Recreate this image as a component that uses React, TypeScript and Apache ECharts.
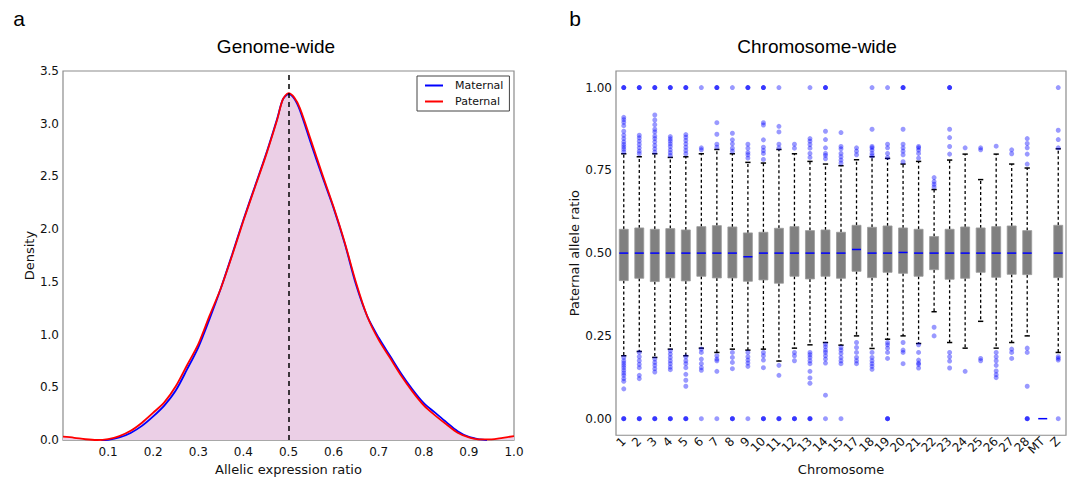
import React, { useEffect, useRef } from "react";
import * as echarts from "echarts";

// ---------- Panel a: genome-wide density ----------
const patX = [0, 0.025, 0.05, 0.075, 0.1, 0.125, 0.15, 0.175, 0.2, 0.225, 0.25, 0.275, 0.3, 0.325, 0.35, 0.375, 0.4, 0.425, 0.45, 0.475, 0.4875, 0.5, 0.5125, 0.525, 0.55, 0.575, 0.6, 0.625, 0.65, 0.675, 0.7, 0.725, 0.75, 0.775, 0.8, 0.825, 0.85, 0.875, 0.9, 0.925, 0.95, 0.975, 1.0];
const paternalDensity = [0.032, 0.022, 0.008, 0.001, 0.01, 0.038, 0.088, 0.165, 0.26, 0.36, 0.51, 0.71, 0.91, 1.18, 1.44, 1.75, 2.08, 2.39, 2.70, 3.04, 3.23, 3.29, 3.25, 3.15, 2.84, 2.52, 2.21, 1.87, 1.49, 1.17, 0.95, 0.78, 0.61, 0.46, 0.33, 0.235, 0.15, 0.07, 0.026, 0.006, 0.006, 0.022, 0.038];
const matX = [0.085, 0.1, 0.125, 0.15, 0.175, 0.2, 0.225, 0.25, 0.275, 0.3, 0.325, 0.35, 0.375, 0.4, 0.425, 0.45, 0.475, 0.4875, 0.5, 0.5125, 0.525, 0.55, 0.575, 0.6, 0.625, 0.65, 0.675, 0.7, 0.725, 0.75, 0.775, 0.8, 0.825, 0.85, 0.875, 0.9, 0.925, 0.94];
const maternalDensity = [0.0, 0.003, 0.025, 0.068, 0.135, 0.225, 0.33, 0.47, 0.67, 0.88, 1.15, 1.44, 1.76, 2.09, 2.40, 2.71, 3.05, 3.23, 3.28, 3.24, 3.13, 2.81, 2.50, 2.20, 1.86, 1.47, 1.17, 0.97, 0.80, 0.63, 0.48, 0.35, 0.26, 0.17, 0.085, 0.03, 0.006, 0.0];
const densityXTicks = [0, 0.1, 0.2, 0.3, 0.4, 0.5, 0.6, 0.7, 0.8, 0.9, 1.0];

// ---------- Panel b: chromosome-wide boxplots ----------
const chromosomes = ["1", "2", "3", "4", "5", "6", "7", "8", "9", "10", "11", "12", "13", "14", "15", "17", "18", "19", "20", "21", "22", "23", "24", "25", "26", "27", "28", "MT", "Z"];
const whiskerLow = [0.19, 0.203, 0.185, 0.21, 0.19, 0.213, 0.2, 0.21, 0.207, 0.21, 0.174, 0.213, 0.223, 0.23, 0.222, 0.25, 0.212, 0.24, 0.25, 0.227, 0.323, 0.23, 0.213, 0.294, 0.213, 0.23, 0.25, 0, 0.2];
const q1 = [0.417, 0.424, 0.414, 0.425, 0.416, 0.43, 0.425, 0.425, 0.415, 0.419, 0.409, 0.43, 0.422, 0.43, 0.424, 0.445, 0.426, 0.442, 0.439, 0.43, 0.45, 0.421, 0.424, 0.442, 0.427, 0.436, 0.435, 0, 0.426];
const medians = [0.5, 0.5, 0.5, 0.5, 0.5, 0.5, 0.5, 0.5, 0.489, 0.5, 0.5, 0.5, 0.5, 0.5, 0.5, 0.511, 0.5, 0.5, 0.502, 0.5, 0.5, 0.5, 0.5, 0.5, 0.5, 0.5, 0.5, 0, 0.5];
const q3 = [0.572, 0.576, 0.572, 0.574, 0.57, 0.58, 0.583, 0.579, 0.561, 0.563, 0.575, 0.58, 0.568, 0.57, 0.563, 0.584, 0.578, 0.582, 0.576, 0.572, 0.55, 0.572, 0.579, 0.576, 0.58, 0.582, 0.568, 0, 0.584];
const whiskerHigh = [0.8, 0.791, 0.8, 0.789, 0.791, 0.8, 0.813, 0.8, 0.774, 0.772, 0.813, 0.8, 0.777, 0.769, 0.764, 0.782, 0.791, 0.786, 0.769, 0.777, 0.692, 0.781, 0.799, 0.722, 0.799, 0.769, 0.757, 0, 0.815];
const upperOutliers = [
  [0.91, 0.903, 0.895, 0.885, 0.868, 0.856, 0.846, 0.836, 0.828, 0.821, 0.814, 0.806],
  [0.856, 0.848, 0.838, 0.828, 0.818, 0.808, 0.8],
  [0.917, 0.902, 0.888, 0.874, 0.866, 0.854, 0.846, 0.836, 0.825, 0.815, 0.805],
  [0.852, 0.845, 0.838, 0.83, 0.822, 0.812, 0.803, 0.795],
  [0.858, 0.85, 0.84, 0.83, 0.82, 0.81, 0.8],
  [0.818, 0.812],
  [0.894, 0.859, 0.829, 0.82],
  [0.862, 0.842, 0.83, 0.817, 0.808],
  [0.829, 0.817, 0.804, 0.797, 0.787],
  [0.894, 0.887, 0.842, 0.82, 0.81, 0.801, 0.783],
  [0.883, 0.866, 0.829, 0.818],
  [0.829, 0.817],
  [0.846, 0.838, 0.828, 0.817, 0.801, 0.789],
  [0.868, 0.843, 0.818, 0.801, 0.795, 0.785],
  [0.864, 0.822, 0.815, 0.801, 0.791, 0.781, 0.772],
  [0.818, 0.808, 0.797],
  [0.874, 0.822, 0.818, 0.811, 0.801, 0.794],
  [0.829, 0.818, 0.801, 0.789],
  [0.874, 0.829, 0.818, 0.808, 0.797, 0.776],
  [0.822, 0.818, 0.811, 0.801, 0.787],
  [0.728, 0.716, 0.708, 0.7],
  [0.874, 0.849, 0.822, 0.799],
  [0.818],
  [0.818, 0.812],
  [0.823],
  [0.812, 0.8],
  [0.846, 0.831, 0.818, 0.799, 0.769],
  [],
  [0.871, 0.843, 0.818],
];
const lowerOutliers = [
  [0.185, 0.175, 0.168, 0.161, 0.154, 0.146, 0.138, 0.131, 0.121, 0.113, 0.09],
  [0.2, 0.187, 0.175, 0.164, 0.154, 0.131, 0.121],
  [0.18, 0.17, 0.161, 0.151, 0.141],
  [0.205, 0.195, 0.185, 0.175, 0.166, 0.156, 0.148],
  [0.187, 0.175, 0.166, 0.154, 0.134, 0.116, 0.098],
  [0.21, 0.2, 0.18, 0.166, 0.154, 0.146],
  [0.19, 0.18, 0.175, 0.143],
  [0.2, 0.185, 0.17, 0.151],
  [0.2, 0.187, 0.177, 0.168, 0.158],
  [0.2, 0.19, 0.177, 0.154],
  [0.161, 0.131],
  [0.2, 0.19, 0.175],
  [0.2, 0.193, 0.185, 0.175, 0.166, 0.143, 0.123, 0.107],
  [0.225, 0.217, 0.207, 0.2, 0.19, 0.18, 0.168, 0.071],
  [0.215, 0.207, 0.197, 0.185, 0.175, 0.166],
  [0.23, 0.215, 0.2, 0.185, 0.175, 0.166],
  [0.2, 0.185, 0.175, 0.166, 0.158, 0.149],
  [0.23, 0.223, 0.213, 0.2, 0.182],
  [0.23, 0.207, 0.2, 0.166],
  [0.223, 0.2, 0.177, 0.168, 0.164, 0.153],
  [0.276, 0.25],
  [0.2, 0.187, 0.174, 0.153],
  [0.143],
  [0.182, 0.175],
  [0.2, 0.187, 0.175, 0.161, 0.144, 0.133, 0.124],
  [0.21, 0.2, 0.182],
  [0.213, 0.2, 0.098],
  [],
  [0.187, 0.182, 0.177],
];
// number of overlapping points sitting exactly at 1.00 and at 0.00
const countAtOne = [3, 3, 3, 3, 3, 1, 3, 1, 3, 3, 1, 0, 1, 3, 0, 0, 1, 1, 3, 0, 0, 3, 0, 0, 0, 0, 0, 0, 1];
const countAtZero = [3, 3, 3, 3, 3, 1, 1, 3, 1, 3, 3, 3, 3, 1, 1, 0, 0, 3, 0, 0, 0, 0, 0, 0, 0, 0, 3, 0, 1];
const ratioTicks = [0, 0.25, 0.5, 0.75, 1.0];

const TICK_FONT = "DejaVu Sans";
const TITLE_FONT = "Liberation Sans";

export default function App() {
  const ref = useRef<HTMLDivElement>(null);

  useEffect(() => {
    if (!ref.current) return;
    const chart = echarts.init(ref.current, undefined, { renderer: "svg" });

    const boxData = chromosomes.map((_, i) => [i, whiskerLow[i], q1[i], medians[i], q3[i], whiskerHigh[i]]);
    const outlierData: number[][] = [];
    chromosomes.forEach((_, i) => {
      upperOutliers[i].forEach((v) => outlierData.push([i, v]));
      lowerOutliers[i].forEach((v) => outlierData.push([i, v]));
      for (let k = 0; k < countAtOne[i]; k++) outlierData.push([i, 1]);
      for (let k = 0; k < countAtZero[i]; k++) outlierData.push([i, 0]);
    });

    const axisLabelBase = { fontFamily: TICK_FONT, fontSize: 12, color: "#111" };
    const axisNameBase = { fontFamily: TICK_FONT, fontSize: 13, color: "#111" };

    chart.setOption({
      animation: false,
      backgroundColor: "#fff",
      grid: [
        { left: 63, top: 71, width: 451, height: 371, show: true, borderColor: "#8c8c8c", borderWidth: 1.2, backgroundColor: "transparent" },
        { left: 616, top: 71, width: 450, height: 372, show: true, borderColor: "#8c8c8c", borderWidth: 1.2, backgroundColor: "transparent" },
      ],
      legend: {
        data: ["Maternal", "Paternal"],
        orient: "vertical",
        left: 417,
        top: 76,
        icon: "rect",
        itemWidth: 18,
        itemHeight: 2,
        itemGap: 5,
        padding: [4, 6, 4, 8],
        borderColor: "#444",
        borderWidth: 1,
        borderRadius: 0,
        textStyle: { fontFamily: TICK_FONT, fontSize: 11, color: "#111", padding: [0, 0, 0, 7] },
      },
      xAxis: [
        {
          type: "value",
          gridIndex: 0,
          min: 0,
          max: 1,
          interval: 0.1,
          axisLine: { show: false },
          axisTick: { show: false },
          splitLine: { show: false },
          axisLabel: { ...axisLabelBase, margin: 6, formatter: (v: number) => (v === 0 ? "" : densityXTicks.includes(Math.round(v * 10) / 10) ? v.toFixed(1) : "") },
          name: "Allelic expression ratio",
          nameLocation: "middle",
          nameGap: 22,
          nameTextStyle: axisNameBase,
        },
        {
          type: "category",
          gridIndex: 1,
          data: chromosomes,
          boundaryGap: true,
          axisLine: { show: false },
          axisTick: { show: false },
          splitLine: { show: false },
          axisLabel: { ...axisLabelBase, fontSize: 12, rotate: 45, margin: 4, interval: 0 },
          name: "Chromosome",
          nameLocation: "middle",
          nameGap: 24,
          nameTextStyle: axisNameBase,
        },
      ],
      yAxis: [
        {
          type: "value",
          gridIndex: 0,
          min: 0,
          max: 3.5,
          interval: 0.5,
          axisLine: { show: false },
          axisTick: { show: false },
          splitLine: { show: false },
          axisLabel: { ...axisLabelBase, margin: 4, formatter: (v: number) => v.toFixed(1) },
          name: "Density",
          nameLocation: "middle",
          nameGap: 27,
          nameTextStyle: axisNameBase,
        },
        {
          type: "value",
          gridIndex: 1,
          min: -0.05,
          max: 1.05,
          axisLine: { show: false },
          axisTick: { show: false },
          splitLine: { show: false },
          axisLabel: { ...axisLabelBase, margin: 4, customValues: ratioTicks, formatter: (v: number) => v.toFixed(2) },
          name: "Paternal allele ratio",
          nameLocation: "middle",
          nameGap: 33,
          nameTextStyle: axisNameBase,
        },
      ],
      graphic: [
        { type: "text", x: 19, y: 18, style: { text: "a", font: `21px ${TITLE_FONT}`, fill: "#000", align: "center", verticalAlign: "middle", textAlign: "center", textVerticalAlign: "middle" } },
        { type: "text", x: 575, y: 18, style: { text: "b", font: `21px ${TITLE_FONT}`, fill: "#000", align: "center", verticalAlign: "middle", textAlign: "center", textVerticalAlign: "middle" } },
        { type: "text", x: 276, y: 46, style: { text: "Genome-wide", font: `19px ${TITLE_FONT}`, fill: "#000", align: "center", verticalAlign: "middle", textAlign: "center", textVerticalAlign: "middle" } },
        { type: "text", x: 817, y: 46, style: { text: "Chromosome-wide", font: `19px ${TITLE_FONT}`, fill: "#000", align: "center", verticalAlign: "middle", textAlign: "center", textVerticalAlign: "middle" } },
      ],
      series: [
        {
          name: "fill",
          type: "line",
          xAxisIndex: 0,
          yAxisIndex: 0,
          data: patX.map((x, i) => [x, paternalDensity[i]]),
          smooth: 0.3,
          showSymbol: false,
          silent: true,
          lineStyle: { width: 0, opacity: 0 },
          areaStyle: { color: "#ebcfe6", opacity: 1 },
          z: 1,
        },
        {
          name: "Maternal",
          type: "line",
          xAxisIndex: 0,
          yAxisIndex: 0,
          data: matX.map((x, i) => [x, maternalDensity[i]]),
          smooth: 0.3,
          showSymbol: false,
          itemStyle: { color: "#0000ff" },
          lineStyle: { color: "#0000ff", width: 1.8 },
          z: 2,
        },
        {
          name: "Paternal",
          type: "line",
          xAxisIndex: 0,
          yAxisIndex: 0,
          data: patX.map((x, i) => [x, paternalDensity[i]]),
          smooth: 0.3,
          showSymbol: false,
          itemStyle: { color: "#ff0000" },
          lineStyle: { color: "#ff0000", width: 1.8 },
          z: 3,
          markLine: {
            silent: true,
            symbol: "none",
            label: { show: false },
            lineStyle: { color: "#000", type: [5, 4], width: 1.5 },
            data: [{ xAxis: 0.5 }],
          },
        },
        {
          name: "boxes",
          type: "custom",
          xAxisIndex: 1,
          yAxisIndex: 1,
          data: boxData,
          z: 2,
          renderItem: (params: any, api: any) => {
            const idx = api.value(0);
            const lo = api.value(1), b1 = api.value(2), md = api.value(3), b3 = api.value(4), hi = api.value(5);
            const pLo = api.coord([idx, lo]);
            const p1 = api.coord([idx, b1]);
            const pm = api.coord([idx, md]);
            const p3 = api.coord([idx, b3]);
            const pHi = api.coord([idx, hi]);
            const band = api.size([1, 0])[0];
            const bw = band * 0.58;
            const cw = band * 0.34;
            const cx = pm[0];
            const children: any[] = [];
            if (hi > lo) {
              children.push({ type: "line", shape: { x1: cx, y1: p3[1], x2: cx, y2: pHi[1] }, style: { stroke: "#000", lineWidth: 1.3, lineDash: [3, 2.5] } });
              children.push({ type: "line", shape: { x1: cx, y1: p1[1], x2: cx, y2: pLo[1] }, style: { stroke: "#000", lineWidth: 1.3, lineDash: [3, 2.5] } });
              children.push({ type: "line", shape: { x1: cx - cw / 2, y1: pHi[1], x2: cx + cw / 2, y2: pHi[1] }, style: { stroke: "#000", lineWidth: 1.5 } });
              children.push({ type: "line", shape: { x1: cx - cw / 2, y1: pLo[1], x2: cx + cw / 2, y2: pLo[1] }, style: { stroke: "#000", lineWidth: 1.5 } });
              children.push({ type: "rect", shape: { x: cx - bw / 2, y: p3[1], width: bw, height: p1[1] - p3[1] }, style: { fill: "#808080", stroke: "#9a9a9a", lineWidth: 0.8 } });
            }
            children.push({ type: "line", shape: { x1: cx - bw / 2, y1: pm[1], x2: cx + bw / 2, y2: pm[1] }, style: { stroke: "#0000ff", lineWidth: 1.5 } });
            return { type: "group", children };
          },
        },
        {
          name: "outliers",
          type: "scatter",
          xAxisIndex: 1,
          yAxisIndex: 1,
          data: outlierData,
          symbol: "circle",
          symbolSize: 5,
          itemStyle: { color: "rgba(0,0,255,0.5)", borderWidth: 0 },
          z: 3,
        },
      ],
    });

    return () => chart.dispose();
  }, []);

  return <div ref={ref} style={{ position: "fixed", left: 0, top: 0, width: 1072, height: 481, background: "#fff" }} />;
}
